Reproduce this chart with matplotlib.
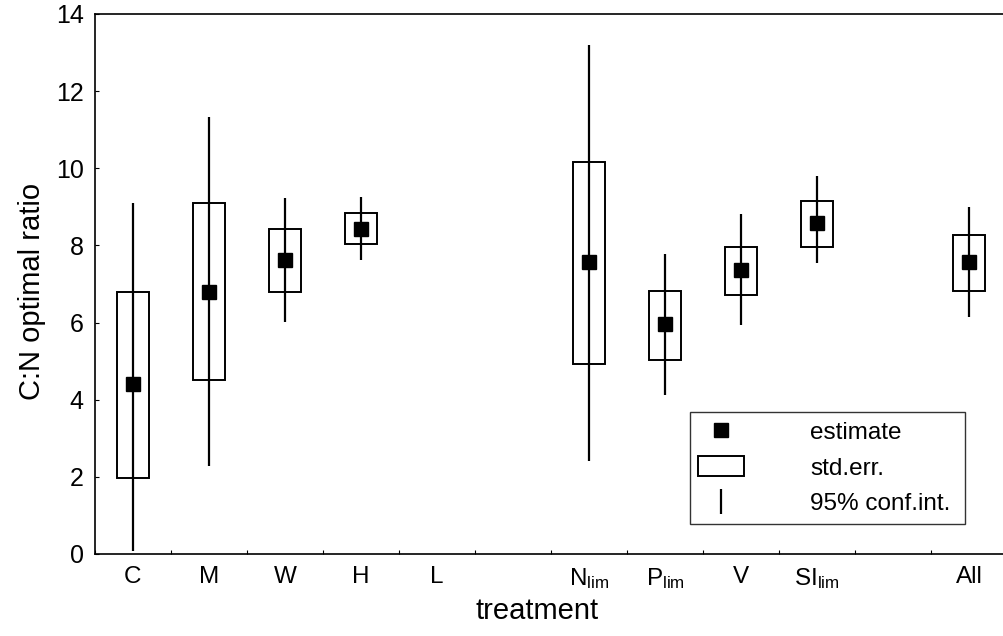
import numpy as np
import matplotlib
matplotlib.use("Agg")
import matplotlib.pyplot as plt
from matplotlib.patches import Rectangle
from matplotlib.lines import Line2D

plt.rcParams['font.family'] = ['Liberation Sans', 'DejaVu Sans']
plt.rcParams['mathtext.default'] = 'regular'

# treatments (blank slots keep the gaps of the original figure)
labels = ['C', 'M', 'W', 'H', 'L', '',
          r'N$_{lim}$', r'P$_{lim}$', 'V', r'SI$_{lim}$', '', 'All']
estimate = [4.40, 6.80, 7.62, 8.43, np.nan, np.nan, 7.56, 5.96, 7.36, 8.57, np.nan, 7.56]
se_low = [1.98, 4.51, 6.79, 8.03, np.nan, np.nan, 4.93, 5.03, 6.72, 7.95, np.nan, 6.83]
se_high = [6.80, 9.11, 8.42, 8.83, np.nan, np.nan, 10.17, 6.83, 7.95, 9.16, np.nan, 8.27]
ci_low = [0.08, 2.28, 6.01, 7.62, np.nan, np.nan, 2.41, 4.12, 5.94, 7.55, np.nan, 6.14]
ci_high = [9.11, 11.33, 9.24, 9.26, np.nan, np.nan, 13.20, 7.78, 8.81, 9.80, np.nan, 8.99]

x = np.arange(len(labels)) + 0.5
box_w = 0.42

fig = plt.figure(figsize=(10.04, 6.36), dpi=100)
ax = fig.add_axes([0.0946, 0.129, 0.9084, 0.849])

for xi, e, sl, sh, cl, ch in zip(x, estimate, se_low, se_high, ci_low, ci_high):
    if np.isnan(e):
        continue
    ax.vlines(xi, cl, ch, color='black', lw=1.6, zorder=2)
    ax.add_patch(Rectangle((xi - box_w / 2, sl), box_w, sh - sl,
                           facecolor='none', edgecolor='black', lw=1.4, zorder=3))
    ax.plot(xi, e, marker='s', color='black', ms=10, ls='none', zorder=4)

ax.set_xlim(0, 12)
ax.set_ylim(0, 14)
ax.set_yticks(np.arange(0, 15, 2))
ax.set_xticks(np.arange(0, 13))
ax.set_xticklabels([])
ax.set_xticks(x, minor=True)
ax.set_xticklabels(labels, minor=True)
ax.tick_params(axis='x', which='minor', length=0, pad=9, labelsize=17.5)
ax.tick_params(axis='x', which='major', direction='in', length=3)
ax.tick_params(axis='y', direction='in', length=3, labelsize=18, pad=8)
for s in ax.spines.values():
    s.set_linewidth(1.2)

ax.set_xlabel('treatment', fontsize=21)
ax.set_ylabel('C:N optimal ratio', fontsize=21)
ax.xaxis.set_label_coords(0.485, -0.08)
ax.yaxis.set_label_coords(-0.054, 0.487)

handles = [
    Line2D([], [], marker='s', color='black', ms=10, ls='none'),
    Rectangle((0, 0), 1, 1, facecolor='white', edgecolor='black', lw=1.4),
    Line2D([], [], marker='|', color='black', ms=18, mew=1.6, ls='none'),
]
leg = ax.legend(handles, ['estimate', 'std.err.', '95% conf.int.'],
                loc='lower left', bbox_to_anchor=(0.652, 0.056, 0.302, 0.205),
                mode='expand', fontsize=17.5, frameon=True, fancybox=False,
                handlelength=1.9, handleheight=0.9, handletextpad=2.7,
                labelspacing=0.5, borderpad=0.35, borderaxespad=0)
leg.get_frame().set_edgecolor('black')
leg.get_frame().set_linewidth(1.0)

fig.savefig('out.png', dpi=100)
